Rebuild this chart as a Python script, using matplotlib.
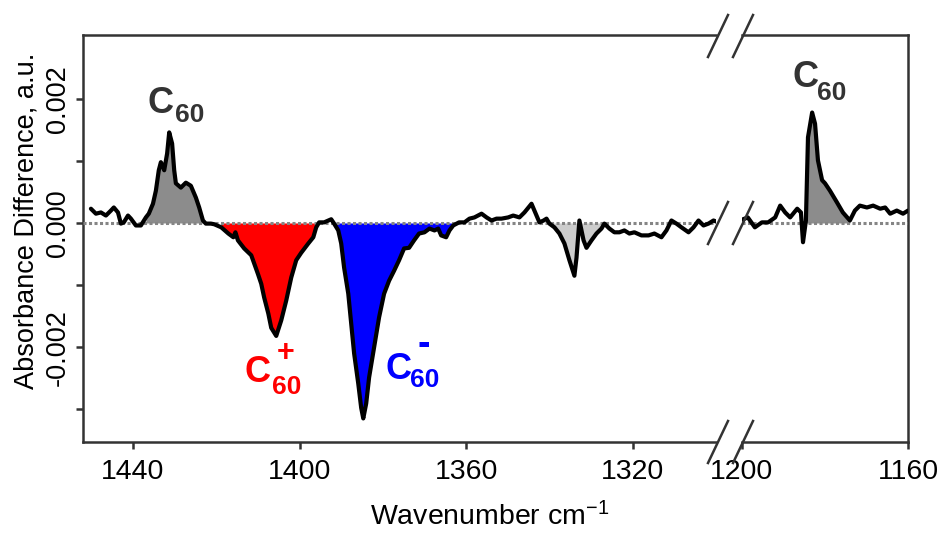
"""Difference IR spectrum of C60 / C60+ / C60- with a broken wavenumber axis."""

import matplotlib
import matplotlib.pyplot as plt
import numpy as np
from matplotlib.lines import Line2D
from matplotlib.ticker import FixedLocator, FuncFormatter

matplotlib.use("Agg")

plt.rcParams["font.family"] = ["Liberation Sans", "DejaVu Sans"]
plt.rcParams["mathtext.fontset"] = "custom"
plt.rcParams["mathtext.rm"] = "Liberation Sans"
plt.rcParams["mathtext.bf"] = "Liberation Sans:bold"
plt.rcParams["mathtext.it"] = "Liberation Sans:italic"

# ── data (absorbance difference in units of 1e-3 a.u.) ─────────────────────

wn_hi = [
    1450.1, 1448.9, 1447.7, 1446.5, 1445.3, 1444.6, 1443.6, 1442.9, 1442.2, 1441.2,
    1440.5, 1439.3, 1438.1, 1436.9, 1436.2, 1435.2, 1434.5, 1433.8, 1433.3, 1432.5,
    1431.8, 1431.3, 1430.6, 1430.1, 1429.7, 1428.5, 1427.3, 1426.1, 1424.9, 1424.1,
    1423.2, 1422.5, 1421.3, 1420.5, 1418.8, 1417.1, 1415.9, 1415.4, 1414.8, 1413.3,
    1411.6, 1410.9, 1410.0, 1409.2, 1408.5, 1407.5, 1406.8, 1405.6, 1404.4, 1403.2,
    1402.0, 1400.8, 1399.6, 1397.9, 1396.7, 1396.0, 1395.3, 1394.1, 1393.1, 1392.4,
    1391.7, 1390.7, 1390.0, 1389.3, 1388.3, 1387.6, 1386.9, 1385.9, 1385.2, 1384.7,
    1384.0, 1383.3, 1382.1, 1380.9, 1379.7, 1378.5, 1377.3, 1376.1, 1374.9, 1373.7,
    1372.5, 1371.3, 1370.0, 1368.8, 1367.6, 1366.7, 1366.0, 1364.8, 1364.0, 1363.1,
    1361.7, 1360.4, 1359.2, 1358.0, 1356.3, 1355.1, 1353.9, 1352.7, 1351.5, 1349.9,
    1348.7, 1347.2, 1346.0, 1344.3, 1343.6, 1342.4, 1341.4, 1340.7, 1340.0, 1338.8,
    1337.6, 1336.4, 1335.2, 1334.0, 1333.5, 1332.8, 1331.8, 1331.1, 1329.9, 1328.7,
    1327.5, 1326.8, 1325.6, 1324.4, 1323.2, 1322.0, 1320.8, 1319.6, 1317.9, 1316.2,
    1314.8, 1313.1, 1311.9, 1310.7, 1309.5, 1308.3, 1306.6, 1305.4, 1304.2, 1303.0,
    1301.8, 1300.6, 1299.4,
]
dA_hi = [
    0.23, 0.15, 0.17, 0.12, 0.20, 0.25, 0.17, -0.01, 0.01, 0.12,
    0.07, -0.04, -0.04, 0.09, 0.15, 0.31, 0.52, 0.85, 0.98, 0.85,
    1.12, 1.46, 1.28, 0.85, 0.64, 0.57, 0.65, 0.60, 0.41, 0.25,
    0.04, -0.01, -0.01, -0.02, -0.07, -0.17, -0.23, -0.15, -0.28, -0.41,
    -0.52, -0.65, -0.82, -0.98, -1.20, -1.46, -1.69, -1.82, -1.57, -1.25,
    -0.88, -0.60, -0.48, -0.33, -0.23, -0.07, 0.01, 0.01, 0.04, 0.06,
    -0.01, -0.12, -0.33, -0.72, -1.14, -1.62, -2.10, -2.59, -2.98, -3.15,
    -2.91, -2.49, -2.01, -1.52, -1.14, -0.93, -0.77, -0.60, -0.41, -0.40,
    -0.28, -0.17, -0.15, -0.09, -0.12, -0.09, -0.20, -0.23, -0.12, -0.04,
    0.01, 0.01, 0.07, 0.09, 0.15, 0.09, 0.04, 0.07, 0.07, 0.09,
    0.12, 0.09, 0.17, 0.31, 0.20, 0.01, 0.04, 0.07, -0.01, -0.07,
    -0.17, -0.33, -0.60, -0.85, -0.56, 0.04, -0.28, -0.40, -0.28, -0.17,
    -0.09, -0.01, -0.09, -0.15, -0.15, -0.12, -0.17, -0.15, -0.20, -0.20,
    -0.17, -0.23, -0.12, 0.04, -0.01, -0.07, -0.15, -0.07, 0.04, -0.04,
    -0.01, 0.04, 0.01,
]

wn_lo = [
    1200.5, 1198.6, 1196.9, 1195.2, 1193.7, 1192.0, 1190.8, 1189.6, 1188.4, 1186.7,
    1185.8, 1185.3, 1184.6, 1184.1, 1183.1, 1182.4, 1181.7, 1180.7, 1180.0, 1178.8,
    1177.1, 1175.7, 1174.0, 1172.8, 1171.6, 1169.9, 1168.4, 1166.7, 1165.5, 1164.3,
    1162.7, 1161.2, 1160.0,
]
dA_lo = [
    0.04, 0.09, -0.07, 0.01, 0.01, 0.09, 0.28, 0.17, 0.09, 0.23,
    0.17, -0.31, 0.04, 1.38, 1.78, 1.60, 1.01, 0.69, 0.64, 0.52,
    0.33, 0.17, 0.04, 0.20, 0.28, 0.25, 0.28, 0.23, 0.25, 0.15,
    0.20, 0.15, 0.20,
]

# shaded bands (high wn, low wn, colour)
bands_hi = [
    (1436.9, 1423.2, "#8c8c8c"),
    (1418.8, 1395.3, "#ff0000"),
    (1391.7, 1363.1, "#0000ff"),
    (1340.0, 1326.8, "#cccccc"),
]
bands_lo = [(1184.6, 1174.0, "#8c8c8c")]

FRAME = "#333333"

w1, y1 = np.array(wn_hi), np.array(dA_hi) * 1e-3
w2, y2 = np.array(wn_lo), np.array(dA_lo) * 1e-3

fig = plt.figure(figsize=(9.41, 5.34), dpi=100)
ax1 = fig.add_axes([83 / 941, 92 / 534, 633 / 941, 407 / 534])
ax2 = fig.add_axes([742 / 941, 92 / 534, 166 / 941, 407 / 534], sharey=ax1)

for ax, w, y, bands in [(ax1, w1, y1, bands_hi), (ax2, w2, y2, bands_lo)]:
    for hi, lo, col in bands:
        ax.fill_between(w, 0, y, where=(w <= hi) & (w >= lo), color=col, lw=0, zorder=2)
    ax.axhline(0, color="#858585", ls=(0, (1.0, 0.8)), lw=2.2, zorder=3)
    ax.plot(w, y, color="black", lw=3.0, zorder=4,
            solid_joinstyle="round", solid_capstyle="round")
    for s in ax.spines.values():
        s.set_color(FRAME)
        s.set_linewidth(1.8)
    ax.tick_params(axis="both", direction="out", length=5, width=1.8,
                   color=FRAME, labelsize=20.5)
    ax.tick_params(axis="x", pad=7)

ax1.set_xlim(1452, 1300)
ax2.set_xlim(1200, 1160)
ax1.set_ylim(-0.00353, 0.00303)
ax1.xaxis.set_major_locator(FixedLocator([1440, 1400, 1360, 1320]))
ax2.xaxis.set_major_locator(FixedLocator([1200, 1160]))
ax1.yaxis.set_major_locator(FixedLocator([-0.003, -0.002, -0.001, 0.0, 0.001, 0.002]))
ax1.yaxis.set_major_formatter(
    FuncFormatter(lambda v, pos: f"{v:.3f}" if round(v * 1000) % 2 == 0 else ""))
ax1.tick_params(axis="y", labelrotation=90, pad=4, labelsize=19.5)
for lab in ax1.get_yticklabels():
    lab.set_va("center")

ax1.spines["right"].set_visible(False)
ax2.spines["left"].set_visible(False)
ax2.tick_params(axis="y", left=False, labelleft=False)

# break marks
zero_y = 1 - (35 + 0.00303 / 0.00656 * 407) / 534
dx, dy = 10 / 941, 21 / 534
for cx in (718 / 941, 743 / 941):
    for cy in (1 - 36 / 534, zero_y, 92 / 534):
        fig.add_artist(Line2D([cx - dx, cx + dx], [cy - dy, cy + dy],
                              color=FRAME, lw=1.8, transform=fig.transFigure))


# peak labels: "C", subscript "60", optional charge sign
def species(ax, c_pos, sub_pos, color, charge=None, charge_pos=None, charge_size=22):
    ax.text(*c_pos, "C", fontsize=26, fontweight="bold", color=color,
            ha="left", va="baseline")
    ax.text(*sub_pos, "60", fontsize=19, fontweight="bold", color=color,
            ha="left", va="baseline")
    if charge:
        ax.text(*charge_pos, charge, fontsize=charge_size, fontweight="bold",
                color=color, ha="center", va="center")


species(ax1, (1436.4, 1.78e-3), (1429.9, 1.62e-3), "#333333")
species(ax2, (1187.9, 2.19e-3), (1181.9, 1.98e-3), "#333333")
species(ax1, (1413.1, -2.57e-3), (1406.6, -2.75e-3), "#ff0000",
        "+", (1403.3, -2.10e-3), 22)
species(ax1, (1379.4, -2.51e-3), (1373.4, -2.65e-3), "#0000ff",
        "-", (1370.1, -1.97e-3), 27)

fig.text(27 / 941, 1 - 221 / 534, "Absorbance Difference, a.u.", rotation=90,
         ha="center", va="center", fontsize=19.5)
fig.text(490 / 941, 1 - 517 / 534, r"Wavenumber cm$^{-1}$",
         ha="center", va="center", fontsize=20.5)

fig.savefig("out.png", dpi=100)
